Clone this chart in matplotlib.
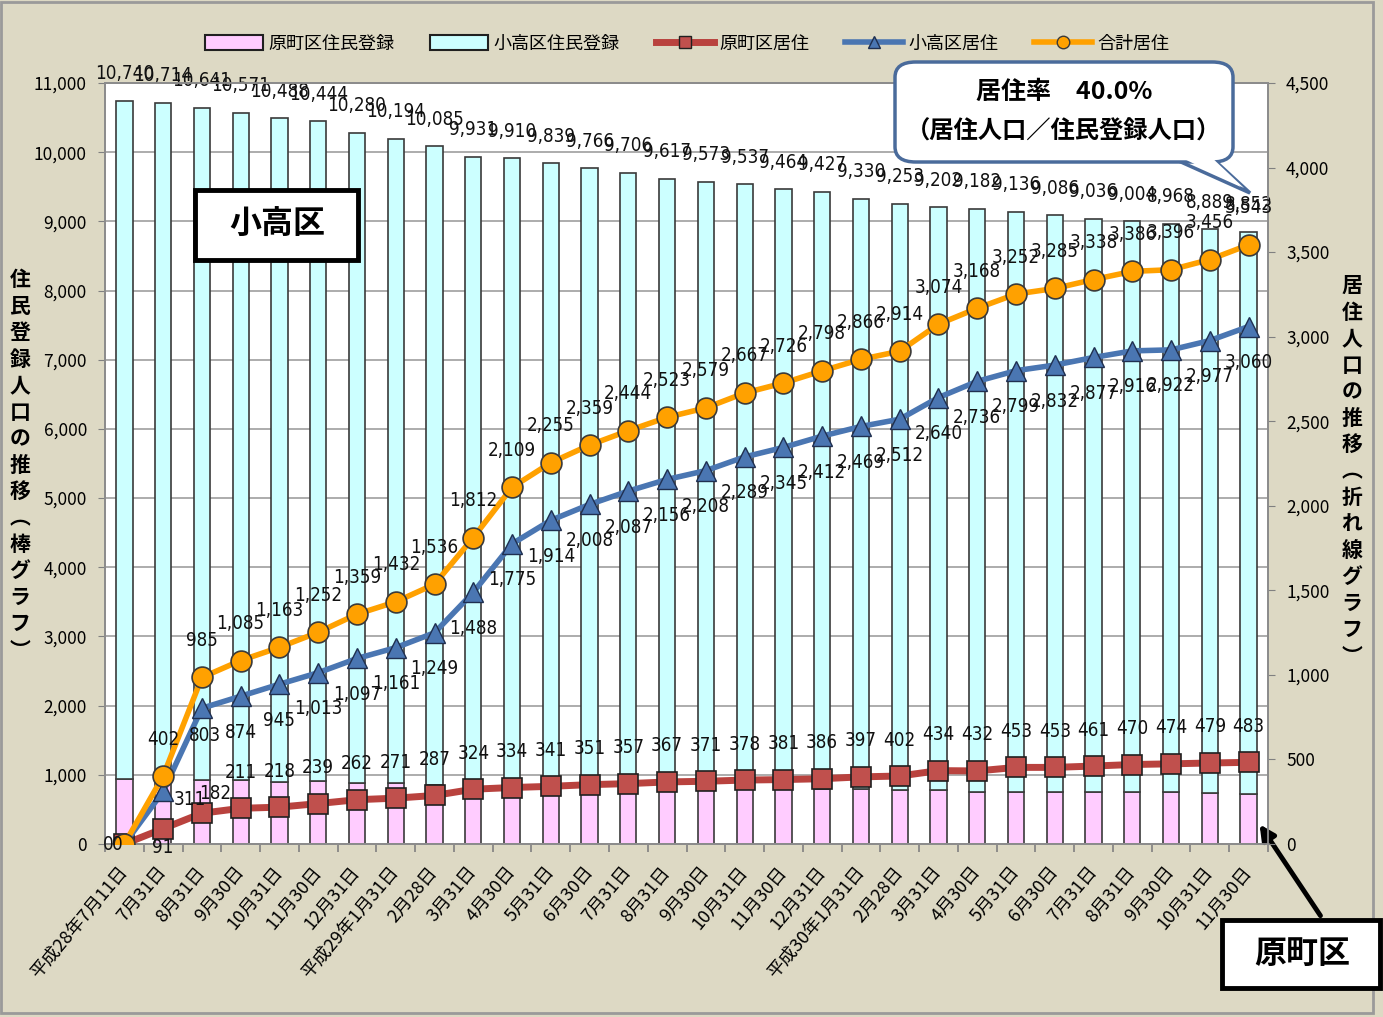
import numpy as np
import matplotlib
matplotlib.use('Agg')
import matplotlib.pyplot as plt
from matplotlib.patches import Rectangle, FancyBboxPatch, Polygon
from matplotlib.lines import Line2D
from matplotlib.ticker import FuncFormatter, FixedLocator

plt.rcParams['font.family'] = ['Noto Sans CJK JP', 'DejaVu Sans']

DATES = ['平成28年7月11日', '7月31日', '8月31日', '9月30日', '10月31日', '11月30日', '12月31日',
         '平成29年1月31日', '2月28日', '3月31日', '4月30日', '5月31日', '6月30日', '7月31日',
         '8月31日', '9月30日', '10月31日', '11月30日', '12月31日', '平成30年1月31日', '2月28日',
         '3月31日', '4月30日', '5月31日', '6月30日', '7月31日', '8月31日', '9月30日', '10月31日',
         '11月30日']
# 住民登録 (bar total) and 原町区 part of it
REG_TOTAL = [10740, 10714, 10641, 10571, 10488, 10444, 10280, 10194, 10085, 9931, 9910, 9839,
             9766, 9706, 9617, 9573, 9537, 9464, 9427, 9330, 9253, 9202, 9182, 9136, 9086, 9036,
             9004, 8968, 8889, 8852]
REG_HARA = [942, 935, 928, 918, 903, 905, 880, 878, 855, 845, 835, 830, 825, 820, 815, 810, 805,
            800, 800, 795, 785, 785, 755, 750, 750, 750, 750, 750, 735, 725]
# 居住
RES_HARA = [0, 91, 182, 211, 218, 239, 262, 271, 287, 324, 334, 341, 351, 357, 367, 371, 378, 381,
            386, 397, 402, 434, 432, 453, 453, 461, 470, 474, 479, 483]
RES_ODAKA = [0, 311, 803, 874, 945, 1013, 1097, 1161, 1249, 1488, 1775, 1914, 2008, 2087, 2156,
             2208, 2289, 2345, 2412, 2469, 2512, 2640, 2736, 2799, 2832, 2877, 2916, 2922, 2977, 3060]
RES_SUM = [0, 402, 985, 1085, 1163, 1252, 1359, 1432, 1536, 1812, 2109, 2255, 2359, 2444, 2523,
           2579, 2667, 2726, 2798, 2866, 2914, 3074, 3168, 3252, 3285, 3338, 3386, 3396, 3456, 3543]
RATE = 40.0

BG = '#DDD9C4'
PINK = '#FFCCFF'
CYAN = '#CCFFFF'
RED = '#B9423E'
BLUE = '#4A76B2'
ORANGE = '#FFA100'
LABFONT = dict(family=['Liberation Sans Narrow', 'DejaVu Sans'], fontstretch='condensed',
               fontsize=13.5, color='#111111')

W, H = 1383, 1017
fig = plt.figure(figsize=(W / 100, H / 100), dpi=100, facecolor=BG)
fig.add_artist(Rectangle((0.001, 0.004), 0.992, 0.994, transform=fig.transFigure,
                         fill=False, ec='#9a9a9a', lw=2))

ax = fig.add_axes([105 / W, 1 - 844 / H, 1163 / W, 761 / H])
ax.set_facecolor('white')
ax2 = ax.twinx()

x = np.arange(len(DATES))
total = np.array(REG_TOTAL)
hara = np.array(REG_HARA)

ax.bar(x, hara, width=0.42, color=PINK, edgecolor='#3a3a3a', lw=1.2, zorder=2)
ax.bar(x, total - hara, bottom=hara, width=0.42, color=CYAN, edgecolor='#3a3a3a', lw=1.2, zorder=2)
for xi, v in zip(x, REG_TOTAL):
   ax.annotate(f'{v:,}', (xi, v), xytext=(0, 27), textcoords='offset pixels',
               ha='center', va='center', zorder=5, **LABFONT)

ax.set_xlim(-0.5, len(DATES) - 0.5)
ax.set_ylim(0, 11000)
ax.set_yticks(np.arange(0, 11001, 1000))
ax.yaxis.set_major_formatter(FuncFormatter(lambda v, p: f'{int(v):,}'))
ax.grid(axis='y', color='#a6a6a6', lw=1.3, zorder=0)
ax.set_axisbelow(True)

ax2.set_ylim(0, 4500)
ax2.set_yticks(np.arange(0, 4501, 500))
ax2.yaxis.set_major_formatter(FuncFormatter(lambda v, p: f'{int(v):,}'))

ax2.plot(x, RES_HARA, color=RED, lw=5, marker='s', ms=15, mfc='#C0504D', mec='#202020',
         mew=1.2, zorder=3, solid_capstyle='round')
ax2.plot(x, RES_ODAKA, color=BLUE, lw=4, marker='^', ms=14, mfc=BLUE, mec='#1f2f50',
         mew=1.0, zorder=4)
ax2.plot(x, RES_SUM, color=ORANGE, lw=4, marker='o', ms=15, mfc=ORANGE, mec='#3a3a3a',
         mew=1.2, zorder=5)

red_off = {0: (-16, 0), 1: (0, -19), 2: (13, 20)}
blue_off = {0: (-7, 0), 1: (27, -8), 2: (3, -27)}
for i in range(len(x)):
   dx, dy = red_off.get(i, (0, 36))
   ax2.annotate(f'{RES_HARA[i]:,}', (x[i], RES_HARA[i]), xytext=(dx, dy),
                textcoords='offset pixels', ha='center', va='center', zorder=6, **LABFONT)
   dx, dy = blue_off.get(i, (0, -36))
   ax2.annotate(f'{RES_ODAKA[i]:,}', (x[i], RES_ODAKA[i]), xytext=(dx, dy),
                textcoords='offset pixels', ha='center', va='center', zorder=6, **LABFONT)
   if i > 0:
      ax2.annotate(f'{RES_SUM[i]:,}', (x[i], RES_SUM[i]), xytext=(0, 37),
                   textcoords='offset pixels', ha='center', va='center', zorder=6, **LABFONT)

ax.set_xticks(x)
ax.set_xticklabels(DATES, rotation=50, ha='right', va='center', rotation_mode='anchor',
                   fontsize=13)
ax.xaxis.set_minor_locator(FixedLocator(np.arange(-0.5, len(DATES), 1)))
ax.tick_params(axis='x', which='major', length=0, pad=18)
ax.tick_params(axis='x', which='minor', length=6, color='#808080', width=1.2)
ax.tick_params(axis='y', labelsize=12.5, length=5, color='#808080', pad=8)
ax2.tick_params(axis='y', labelsize=12.5, length=5, color='#808080', pad=8)
for a in (ax, ax2):
   for s in a.spines.values():
      s.set_color('#8c8c8c')
      s.set_linewidth(1.3)

# legend
handles = [Rectangle((0, 0), 1, 1, fc=PINK, ec='#202020', lw=1.5),
           Rectangle((0, 0), 1, 1, fc=CYAN, ec='#202020', lw=1.5),
           Line2D([], [], color=RED, lw=5, marker='s', ms=9, mfc='#C0504D', mec='#202020'),
           Line2D([], [], color=BLUE, lw=4, marker='^', ms=9, mfc=BLUE, mec='#1f2f50'),
           Line2D([], [], color=ORANGE, lw=4, marker='o', ms=9, mfc=ORANGE, mec='#3a3a3a')]
labels = ['原町区住民登録', '小高区住民登録', '原町区居住', '小高区居住', '合計居住']
fig.legend(handles, labels, ncol=5, loc='center', bbox_to_anchor=(0.497, 1 - 44 / H),
           frameon=False, fontsize=13, handlelength=3.2, handleheight=0.9,
           columnspacing=2.0, handletextpad=0.3)

# vertical axis titles
fig.text(20 / W, 1 - 465 / H, '\n'.join('住民登録人口の推移︵棒グラフ︶'), ha='center', va='center',
         fontsize=15, fontweight='bold', linespacing=1.32)
fig.text(1352 / W, 1 - 471 / H, '\n'.join('居住人口の推移︵折れ線グラフ︶'), ha='center', va='center',
         fontsize=15, fontweight='bold', linespacing=1.32)

# 小高区 box
fig.add_artist(Rectangle((195 / W, 1 - 260 / H), 163 / W, 70 / H, transform=fig.transFigure,
                         fc='white', ec='black', lw=3.5, zorder=10))
fig.text(277 / W, 1 - 225 / H, '小高区', ha='center', va='center', fontsize=23,
         fontweight='bold', zorder=11)

# 原町区 box with arrow
fig.add_artist(Rectangle((1222 / W, 1 - 988 / H), 158 / W, 68 / H, transform=fig.transFigure,
               fc='white', ec='black', lw=3.5, zorder=10))
fig.text(1302 / W, 1 - 954 / H, '原町区', ha='center', va='center', fontsize=23,
         fontweight='bold', zorder=11)
ax.annotate('', xy=(1258 / W, 1 - 822 / H), xycoords='figure fraction',
            xytext=(1322 / W, 1 - 918 / H), textcoords='figure fraction',
            arrowprops=dict(arrowstyle='-|>,head_length=0.9,head_width=0.45', color='black',
                            lw=3.5), annotation_clip=False)

# 居住率 callout
EB = '#4A6B9B'
tail = [(1172 / W, 1 - 158 / H), (1212 / W, 1 - 158 / H), (1250 / W, 1 - 193 / H)]
fig.add_artist(Polygon(tail, closed=True, transform=fig.transFigure, fc='white', ec=EB,
                       lw=2.5, zorder=12))
fig.add_artist(FancyBboxPatch((895 / W, 1 - 162 / H), 338 / W, 100 / H,
                              boxstyle='round,pad=0,rounding_size=0.015',
                              transform=fig.transFigure, fc='white', ec=EB, lw=2.5, zorder=13))
inner = [(1176 / W, 1 - 155 / H), (1209 / W, 1 - 155 / H), (1244 / W, 1 - 188 / H)]
fig.add_artist(Polygon(inner, closed=True, transform=fig.transFigure, fc='white', ec='none',
                       zorder=14))
fig.text(1064 / W, 1 - 92 / H, f'居住率　{RATE:.1f}%', ha='center', va='center', fontsize=18,
         fontweight='bold', zorder=15)
fig.text(1064 / W, 1 - 132 / H, '（居住人口／住民登録人口）', ha='center', va='center',
         fontsize=17.5, fontweight='bold', zorder=15)

fig.savefig('out.png', dpi=100, facecolor=BG)
